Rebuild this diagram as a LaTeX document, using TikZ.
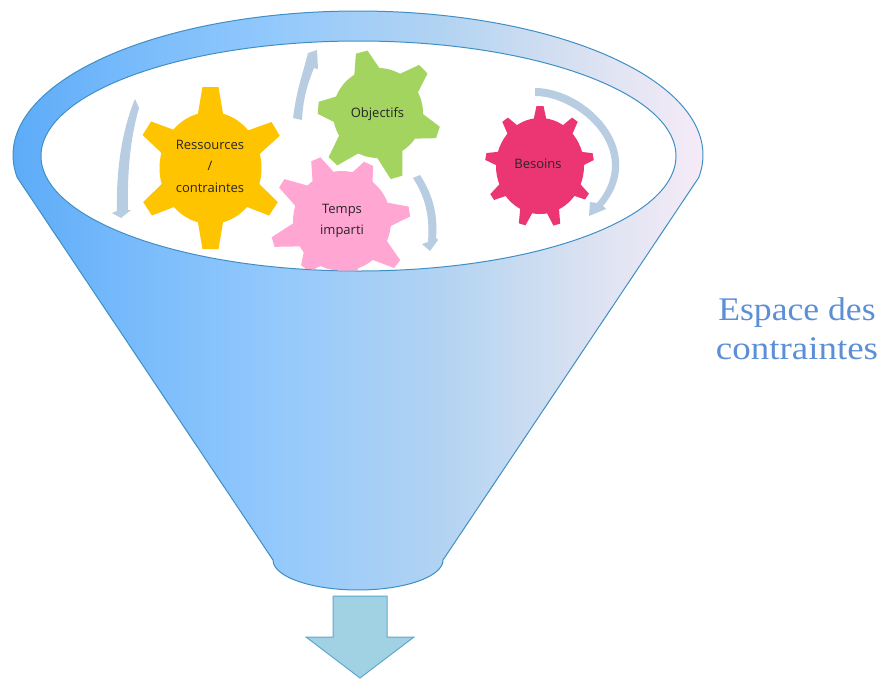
\documentclass[tikz,border=0pt]{standalone}
\usepackage{fontspec}
\setmainfont{Liberation Serif}
\newfontfamily\gearfont{Open Sans}
\newfontfamily\titlefont[FakeStretch=1.12]{Liberation Serif}
\newfontfamily\titlefontb[FakeStretch=1.08]{Liberation Serif}
\definecolor{rimline}{HTML}{3F8FC4}
\definecolor{arrowblue}{HTML}{B8CCE2}
\definecolor{gyellow}{HTML}{FFC400}
\definecolor{ggreen}{HTML}{A2D45F}
\definecolor{gpink}{HTML}{FFA6D2}
\definecolor{gred}{HTML}{EC3674}
\definecolor{downfill}{HTML}{A0D2E4}
\definecolor{downline}{HTML}{5FA8D0}
\definecolor{titleblue}{HTML}{5B8FD6}
\definecolor{c1}{HTML}{5DABF8}
\definecolor{c2}{HTML}{76BAFB}
\definecolor{c3}{HTML}{93C9FC}
\definecolor{c4}{HTML}{B2D3F2}
\definecolor{c5}{HTML}{D8E1F1}
\definecolor{c6}{HTML}{F6EBF7}
\pgfdeclarehorizontalshading{funnelgrad}{100bp}{
  color(0bp)=(c1); color(25bp)=(c1); color(33bp)=(c2); color(44bp)=(c3);
  color(56bp)=(c4); color(66bp)=(c5); color(75bp)=(c6); color(100bp)=(c6)}
\tikzset{
  x=1pt,y=-1pt,
  rim/.style={draw=rimline,line width=1pt},
  turn/.style={fill=arrowblue,draw=none},
  geartext/.style={font=\gearfont\fontsize{13}{21.5}\selectfont,text=black!85,align=center,inner sep=0pt},
}
% name, centre x, centre y, body rx, body ry, base half, tip half, angle/radius list, colour
\newcommand\gearshape[9]{%
  \fill[#9] (#2,#3) ellipse[x radius=#4pt,y radius=#5pt];
  \foreach \a/\r in {#8}{%
    \fill[#9,shift={(#2,#3)},rotate=\a]
      ({#4-5},{#6}) -- (\r,{#7}) -- (\r,{-#7}) -- ({#4-5},{-#6}) -- cycle;}%
  \coordinate (#1) at (#2,#3);}
\begin{document}
\begin{tikzpicture}
\useasboundingbox (0,0) rectangle (888,678);
% funnel
\path[rim,shade,shading=funnelgrad]
  plot[domain=171:369,samples=120] ({358+345*cos(\x)},{155+144*sin(\x)})
  -- (443,560)
  -- plot[domain=0:180,samples=50] ({358+85*cos(\x)},{560+30*sin(\x)})
  -- cycle;
\path[rim,fill=white] (358.5,156) ellipse[x radius=317.5pt,y radius=115pt];
% gears
\begin{scope}
\clip (358.5,156) ellipse[x radius=317pt,y radius=114.5pt];
\gearshape{res}{210.5}{168}{51}{56}{14}{8}{90/81,31/76,-33/75,-90/81,213/75,148/75}{gyellow}
\gearshape{tem}{342}{221}{49}{50}{13}{5}{113/67,65/63,8/68,-38/70,-82/56,-128/60,197/72,148/71}{gpink}
\gearshape{obj}{378}{113}{45}{45}{14}{6}{105/63,44/63,-18/63,-74/67,227/66,175/60}{ggreen}
\gearshape{bes}{540}{166}{44}{48}{8}{3.5}{90/60,53/58,10/54,-33/56,-74/61,-107/61,-147/57,170/55,127/58}{gred}
\end{scope}
\node[geartext] (tres) at (210,166) {Ressources\\/\\contraintes};
\node[geartext] (tobj) at (377.5,114) {Objectifs};
\node[geartext] (ttem) at (342,221) {Temps\\imparti};
\node[geartext] (tbes) at (538,164) {Besoins};
% rotation arrows
\fill[turn] (135,99) -- (139,108) .. controls (131,135) and (127,170) .. (128,210) -- (131,210) -- (121,218) -- (112,213) -- (117,211) .. controls (116,170) and (122,130) .. cycle;
\fill[turn] (293,118) .. controls (296,95) and (300,82) .. (304,68) -- (308,53) -- (317,50) -- (318,69) -- (314,68) .. controls (307,85) and (303,100) .. (302,120) -- cycle;
\fill[turn] (413,178) -- (420,175) .. controls (433,195) and (438,215) .. (436,238) -- (438,240) -- (430,251) -- (422,244) -- (428,242) .. controls (430,215) and (425,197) .. cycle;
\fill[turn] (535,88) .. controls (585,88) and (650,150) .. (603,206) -- (606,209) -- (589,216) -- (590,202) -- (597,203) .. controls (641,150) and (578,96) .. (535,96) -- cycle;
% output arrow
\path[draw=downline,fill=downfill,line width=1pt,line join=miter]
  (333,596) -- (387,596) -- (387,637) -- (414,637) -- (360,678) -- (306,637) -- (333,637) -- cycle;
% label
\node[font=\titlefont\fontsize{33}{39}\selectfont,text=titleblue,align=center,inner sep=0pt] (lab) at (797,329) {{\titlefontb Espace des}\\contraintes};
\end{tikzpicture}
\end{document}
